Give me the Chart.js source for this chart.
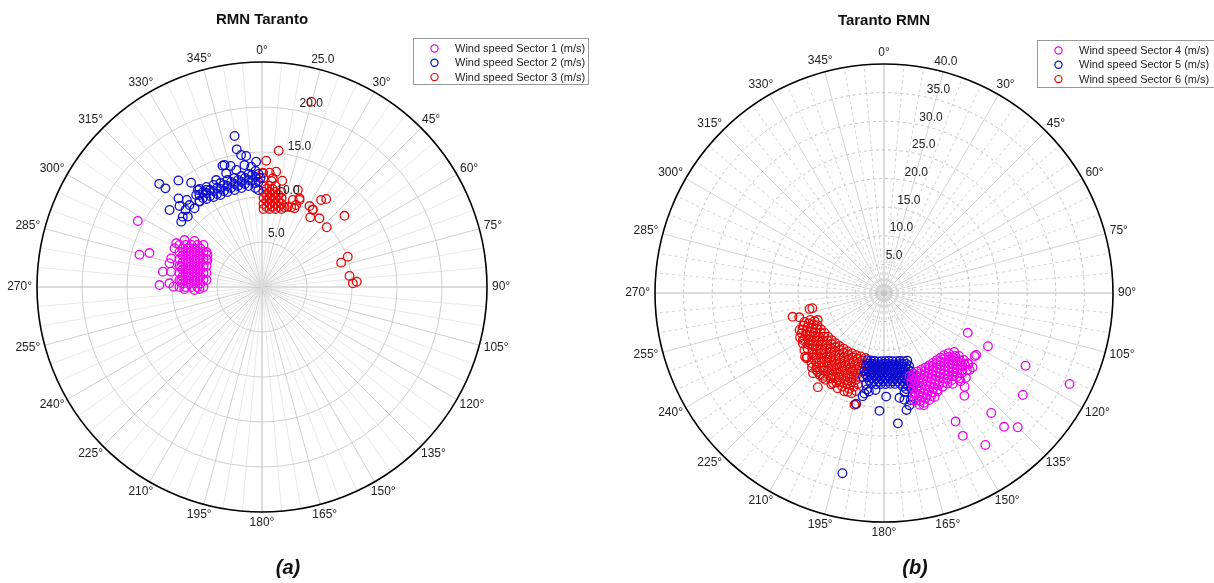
<!DOCTYPE html>
<html>
<head>
<meta charset="utf-8">
<script src="https://cdn.jsdelivr.net/npm/chart.js@4.4.1/dist/chart.umd.min.js"></script>
<style>
  body { margin: 0; background: #fff; width: 1214px; height: 583px; overflow: hidden; position: relative; font-family: "Liberation Sans", Arial, sans-serif; }
  .box { position: absolute; top: 0; width: 607px; height: 583px; }
  .cap { position: absolute; top: 556px; font: italic bold 20px "Liberation Sans", Arial, sans-serif; color: #111; transform: translateX(-50%); }
</style>
</head>
<body>
<div class="box" style="left:0"><canvas id="chartA"></canvas></div>
<div class="box" style="left:607px"><canvas id="chartB"></canvas></div>
<div class="cap" style="left:288px">(a)</div>
<div class="cap" style="left:915px">(b)</div>
<script>
// [direction (deg, clockwise from north), wind speed (m/s)]
const sector1 = [
  [297.0,10.29],[293.0,9.96],[288.7,9.68],[284.3,9.46],[279.6,9.30],[274.9,9.20],[270.0,9.17],
  [298.8,9.70],[294.6,9.35],[290.1,9.05],[285.3,8.81],[280.4,8.64],[275.2,8.54],[270.0,8.50],
  [300.8,9.12],[296.4,8.75],[291.7,8.43],[286.6,8.17],[281.2,7.99],[275.7,7.87],[270.0,7.83],
  [303.1,8.55],[298.5,8.15],[293.5,7.81],[288.0,7.54],[282.2,7.33],[276.2,7.21],[270.0,7.17],
  [305.7,8.00],[300.9,7.57],[295.6,7.21],[289.7,6.90],[283.5,6.69],[276.8,6.55],[270.0,6.50],
  [302.2,7.29],[296.8,6.91],[290.7,6.59],[284.2,6.36],[277.2,6.21],
  [295.8,9.81],[291.6,9.50],[287.1,9.24],[282.4,9.04],[277.5,8.91],[272.5,8.84],
  [297.6,9.22],[293.2,8.89],[288.4,8.61],[283.4,8.40],[278.1,8.25],[272.7,8.18],
  [299.7,8.63],[295.0,8.28],[290.0,7.98],[284.5,7.75],[278.8,7.59],[273.0,7.51],
  [302.0,8.06],[297.1,7.68],[291.7,7.36],[285.9,7.10],[279.7,6.93],[273.3,6.84],
  [271.1,11.39],[272.3,10.29],[279.6,10.23],[284.4,10.61],[278.8,11.15],[287.5,10.58],
  [293.9,10.63],[297.0,10.70],[275.0,9.01],[270.2,9.83],[284.1,9.26],[298.0,15.63],
  [284.8,14.08],[286.8,13.06],[301.2,10.07],[304.3,9.08],[300.4,7.02],[296.4,6.76],
  [267.5,7.51],[268.5,8.62],[268.2,6.95]
];
const sector2 = [
  [327.5,12.91],[325.8,12.36],[324.0,11.81],[331.0,12.71],[329.4,12.13],[327.8,11.56],
  [334.6,12.55],[333.2,11.95],[331.7,11.36],[338.2,12.44],[337.1,11.82],[335.7,11.21],
  [342.1,12.49],[341.1,11.86],[340.0,11.23],[345.8,12.49],[345.1,11.85],[344.2,11.20],
  [349.5,12.54],[349.0,11.89],[348.3,11.23],[353.2,12.64],[352.8,11.98],[352.4,11.32],
  [356.8,12.91],[356.6,12.24],[356.4,11.58],[356.2,11.02],
  [328.2,12.42],[326.5,11.87],[335.6,12.08],[334.2,11.48],[343.6,12.17],[342.6,11.53],
  [351.1,12.26],[350.6,11.60],[358.2,12.56],[358.1,11.67],[357.9,10.78],[359.2,12.11],
  [331.8,12.23],[330.3,11.64],[339.6,12.09],[338.4,11.47],[347.4,12.18],[346.6,11.53],
  [354.9,12.49],[354.6,11.83],
  [351.8,13.69],[354.9,13.42],[357.3,13.94],[347.6,13.31],[342.5,13.24],[336.8,12.93],
  [330.1,12.43],[326.5,12.92],[342.0,14.17],[345.5,13.90],
  [349.7,17.05],[349.6,15.55],[351.0,14.85],[353.1,14.66],[342.9,14.18],[315.1,16.18],
  [315.6,15.34],[321.9,15.05],[325.8,14.01],[316.7,13.53],[309.8,13.37],[319.2,12.78],
  [309.0,11.54],[313.5,11.36],[315.2,12.06],[319.4,11.52],[323.8,11.75],[324.4,12.57],
  [314.5,12.85],[318.5,12.16],[311.6,11.77]
];
const sector3 = [
  [0.9,11.22],[0.9,10.56],[1.0,9.89],[1.0,9.22],[1.1,8.67],
  [4.2,11.25],[4.5,10.59],[4.8,9.92],[5.2,9.26],[5.5,8.71],
  [7.6,11.32],[8.1,10.66],[8.6,10.00],[9.2,9.35],[9.8,8.80],
  [11.6,10.78],[12.4,10.12],[13.2,9.48],[14.1,8.93],
  [2.6,10.90],[2.8,10.23],[3.0,9.57],[3.2,8.90],
  [6.1,10.95],[6.5,10.29],[7.0,9.63],[7.5,8.97],
  [10.2,10.39],[10.9,9.73],[11.7,9.08],
  [0.5,12.70],[3.8,12.73],[0.8,12.11],[5.1,11.83],
  [7.0,15.26],[14.9,21.31],[1.9,14.04],[0.4,12.63],[7.0,12.91],[5.7,12.14],
  [22.9,10.70],[22.6,9.87],[20.1,9.43],[15.8,9.20],[30.4,10.43],[33.4,10.25],
  [34.2,11.69],[36.1,12.10],[33.2,10.31],[34.7,9.41],[39.9,9.95],[47.3,9.79],
  [49.2,12.11],[72.9,9.20],[70.5,10.11],[82.8,9.80],[87.7,10.10],[86.8,10.55],
  [10.8,12.02],[20.3,11.49],[23.3,10.53],[17.8,9.37],[19.5,10.26],[22.4,9.46]
];
const sector4 = [
  [130,16.0],[130,17.1],[130,18.2],[130,19.3],[130,20.2],
  [133,15.4],[133,16.5],[133,17.6],[133,18.7],[133,19.8],
  [136,15.1],[136,16.2],[136,17.3],[136,18.4],[136,19.5],[136,20.6],
  [139,15.0],[139,16.1],[139,17.2],[139,18.3],[139,19.4],[139,20.4],
  [142,14.9],[142,16.0],[142,17.1],[142,18.2],[142,19.3],
  [145,14.9],[145,16.0],[145,17.1],[145,18.2],[145,19.3],
  [148,14.9],[148,16.0],[148,17.1],[148,18.2],[148,19.3],
  [151,14.9],[151,16.0],[151,17.1],[151,18.2],[151,19.3],
  [154,14.9],[154,16.0],[154,17.1],[154,18.2],[154,19.3],[154,20.2],
  [157,14.9],[157,16.0],[157,17.1],[157,18.2],[157,19.3],[157,20.3],
  [160,15.0],[160,16.1],[160,17.2],[160,18.3],[160,19.4],[160,20.4],
  [163,15.2],[163,16.3],[163,17.4],[163,18.5],[163,19.6],
  [131.5,16.6],[131.5,17.7],[131.5,18.8],
  [134.5,15.9],[134.5,17.0],[134.5,18.1],[134.5,19.2],
  [137.5,15.6],[137.5,16.7],[137.5,17.8],[137.5,18.9],
  [140.5,15.5],[140.5,16.6],[140.5,17.7],[140.5,18.8],
  [143.5,15.4],[143.5,16.5],[143.5,17.6],[143.5,18.7],
  [146.5,15.4],[146.5,16.5],[146.5,17.6],[146.5,18.7],
  [149.5,15.4],[149.5,16.5],[149.5,17.6],[149.5,18.7],
  [152.5,15.4],[152.5,16.5],[152.5,17.6],[152.5,18.7],
  [155.5,15.4],[155.5,16.5],[155.5,17.6],[155.5,18.7],[155.5,19.8],
  [158.5,15.5],[158.5,16.6],[158.5,17.7],[158.5,18.8],[158.5,19.8],
  [161.5,15.6],[161.5,16.7],[161.5,17.8],[161.5,18.9],[161.5,19.9],
  [115.4,16.2],[117.1,20.4],[117.2,27.8],[116.1,36.1],[126.3,30.1],[138.2,28.1],
  [138.1,31.4],[135.1,33.1],[150.9,25.7],[151.1,28.5],[146.3,31.9],[124.8,19.3],
  [123.9,19.4],[139.3,21.6],[142.0,22.8],[142.9,19.9],[138.5,19.9],[132.0,20.1],
  [130.0,19.1],[151.4,19.6],[162.4,20.5],[160.5,20.8],[164.5,19.5]
];
const sector5 = [
  [161,12.5],[161,13.5],[161,14.5],[161,15.5],[161,16.5],[161,17.5],
  [164,12.4],[164,13.4],[164,14.4],[164,15.4],[164,16.4],[164,17.4],
  [167,12.2],[167,13.2],[167,14.2],[167,15.2],[167,16.2],[167,17.2],
  [170,12.1],[170,13.1],[170,14.1],[170,15.1],[170,16.1],
  [173,12.0],[173,13.0],[173,14.0],[173,15.0],[173,16.0],
  [176,11.9],[176,12.9],[176,13.9],[176,14.9],[176,15.9],
  [179,11.9],[179,12.9],[179,13.9],[179,14.9],[179,15.9],
  [182,11.9],[182,12.9],[182,13.9],[182,14.9],[182,15.9],
  [185,12.0],[185,13.0],[185,14.0],[185,15.0],[185,16.0],
  [188,12.0],[188,13.0],[188,14.0],[188,15.0],[188,16.0],
  [191,12.0],[191,13.0],[191,14.0],[191,15.0],[191,16.2],
  [194,12.1],[194,13.1],[194,14.1],[194,15.1],
  [162.5,13.0],[162.5,14.0],[162.5,15.0],[162.5,16.0],[162.5,17.0],
  [165.5,12.8],[165.5,13.8],[165.5,14.8],[165.5,15.8],[165.5,16.8],
  [168.5,12.7],[168.5,13.7],[168.5,14.7],[168.5,15.7],[168.5,16.7],
  [171.5,12.6],[171.5,13.6],[171.5,14.6],[171.5,15.6],
  [174.5,12.5],[174.5,13.5],[174.5,14.5],[174.5,15.5],
  [177.5,12.4],[177.5,13.4],[177.5,14.4],[177.5,15.4],
  [180.5,12.4],[180.5,13.4],[180.5,14.4],[180.5,15.4],
  [183.5,12.5],[183.5,13.5],[183.5,14.5],[183.5,15.5],
  [186.5,12.5],[186.5,13.5],[186.5,14.5],[186.5,15.5],
  [189.5,12.5],[189.5,13.5],[189.5,14.5],[189.5,15.5],
  [192.5,12.6],[192.5,13.6],[192.5,14.6],
  [169.2,19.0],[167.2,20.1],[169.1,20.8],[171.6,18.5],[164.5,18.7],[168.3,17.7],
  [194.2,20.0],[191.7,18.4],[188.7,17.4],[182.2,20.6],[173.9,22.9],[193.0,32.3],
  [178.8,18.1],[190.1,17.1],[191.0,17.9],[166.0,19.3],[162.5,18.3],[185.0,17.0]
];
const sector6 = [
  [196,11.8],[196,13.0],[196,14.2],[196,15.4],[196,16.6],[196,17.8],
  [198,12.4],[198,13.6],[198,14.8],[198,16.0],[198,17.2],[198,18.4],
  [200,11.8],[200,13.0],[200,14.2],[200,15.4],[200,16.6],[200,17.8],
  [202,12.4],[202,13.6],[202,14.8],[202,16.0],[202,17.2],[202,18.5],
  [204,11.9],[204,13.1],[204,14.3],[204,15.5],[204,16.7],[204,17.9],
  [206,12.5],[206,13.7],[206,14.9],[206,16.1],[206,17.3],[206,18.5],
  [208,11.9],[208,13.1],[208,14.3],[208,15.5],[208,16.7],[208,17.7],
  [210,12.5],[210,13.7],[210,14.9],[210,16.1],[210,17.2],[210,18.4],
  [212,12.0],[212,13.2],[212,14.4],[212,15.6],[212,16.8],[212,17.6],
  [214,12.6],[214,13.8],[214,15.0],[214,16.2],[214,17.3],[214,18.3],
  [216,12.0],[216,13.2],[216,14.4],[216,15.6],[216,16.8],[216,17.9],
  [218,12.6],[218,13.8],[218,15.0],[218,16.2],[218,17.2],[218,18.2],
  [220,12.1],[220,13.3],[220,14.5],[220,15.7],[220,16.9],[220,18.0],
  [222,12.7],[222,13.9],[222,15.1],[222,16.3],[222,17.5],
  [224,12.2],[224,13.4],[224,14.6],[224,15.8],[224,17.0],[224,18.1],
  [226,12.8],[226,14.0],[226,15.2],[226,16.4],[226,17.6],
  [228,12.3],[228,13.5],[228,14.7],[228,15.9],[228,16.9],
  [230,12.9],[230,14.1],[230,15.3],[230,16.4],[230,17.5],
  [232,12.4],[232,13.6],[232,14.8],[232,15.9],
  [234,13.0],[234,14.2],[234,15.4],[234,16.5],
  [236,12.5],[236,13.7],[236,14.9],[236,16.0],
  [238,13.1],[238,14.3],[238,15.5],[238,16.7],
  [240,12.7],[240,13.8],[240,15.0],[240,16.1],
  [242,13.3],[242,14.4],[242,15.5],[242,16.6],
  [244,12.9],[244,14.0],[244,15.1],[244,16.0],
  [246,13.5],[246,14.6],[246,15.6],
  [248,13.1],[248,14.2],[248,15.2],
  [250,13.7],[250,14.8],
  [255.4,16.5],[254.0,15.4],[257.9,13.3],[258.0,12.8],[247.8,12.5],[246.4,16.1],
  [239.9,16.4],[234.4,17.1],[230.0,17.7],[215.1,20.1],[221.4,17.9],[215.7,18.3],
  [209.6,18.1],[200.1,18.4],[194.8,20.2],[194.0,20.0],[231.1,17.7],[221.5,18.7]
];

const ringsA = [5, 10, 15, 20, 25];
const ringsB = [5, 10, 15, 20, 25, 30, 35, 40];
const labelsA = ["Wind speed Sector 1 (m/s)", "Wind speed Sector 2 (m/s)", "Wind speed Sector 3 (m/s)"];
const labelsB = ["Wind speed Sector 4 (m/s)", "Wind speed Sector 5 (m/s)", "Wind speed Sector 6 (m/s)"];

const MAGENTA = "#f000f0", BLUE = "#0c0cd0", RED = "#e80808";

function toXY(pts) {
  return pts.map(([d, s]) => {
    const t = d * Math.PI / 180;
    return { x: s * Math.sin(t), y: s * Math.cos(t) };
  });
}

function ds(label, pts, color) {
  return {
    label: label,
    data: toXY(pts),
    borderColor: color,
    backgroundColor: "rgba(0,0,0,0)",
    pointRadius: 4.3,
    pointBorderWidth: 1.3,
    pointHoverRadius: 4.3,
  };
}

// polar grid, ring labels, angle labels and the boxed legend
const polarGrid = {
  id: "polarGrid",
  beforeDatasetsDraw(chart, args, o) {
    const ctx = chart.ctx;
    const cx = chart.scales.x.getPixelForValue(0);
    const cy = chart.scales.y.getPixelForValue(0);
    const R = chart.scales.x.getPixelForValue(o.max) - cx;
    ctx.save();
    ctx.lineWidth = 0.8;
    for (let a = 0; a < 360; a += 5) {
      const t = a * Math.PI / 180;
      if (a % 90 === 0) { ctx.strokeStyle = o.axisColor; ctx.setLineDash([]); }
      else if (a % 15 === 0) { ctx.strokeStyle = o.majorColor; ctx.setLineDash([]); }
      else { ctx.strokeStyle = o.minorColor; ctx.setLineDash(o.minorDash); }
      ctx.beginPath();
      ctx.moveTo(cx, cy);
      ctx.lineTo(cx + R * Math.sin(t), cy - R * Math.cos(t));
      ctx.stroke();
    }
    ctx.strokeStyle = o.ringColor;
    ctx.setLineDash(o.ringDash);
    o.rings.slice(0, -1).forEach(v => {
      const r = chart.scales.x.getPixelForValue(v) - cx;
      ctx.beginPath();
      ctx.arc(cx, cy, r, 0, Math.PI * 2);
      ctx.stroke();
    });
    ctx.restore();
  },
  afterDraw(chart, args, o) {
    const ctx = chart.ctx;
    const cx = chart.scales.x.getPixelForValue(0);
    const cy = chart.scales.y.getPixelForValue(0);
    const R = chart.scales.x.getPixelForValue(o.max) - cx;
    ctx.save();
    ctx.setLineDash([]);
    ctx.strokeStyle = "#000";
    ctx.lineWidth = 1.6;
    ctx.beginPath();
    ctx.arc(cx, cy, R, 0, Math.PI * 2);
    ctx.stroke();

    ctx.fillStyle = "#222";
    ctx.font = '12px "Liberation Sans", Arial, sans-serif';
    ctx.textAlign = "center";
    ctx.textBaseline = "middle";
    const lt = 15 * Math.PI / 180;
    o.rings.forEach(v => {
      const r = chart.scales.x.getPixelForValue(v) - cx + 10;
      ctx.fillText(v.toFixed(1), cx + r * Math.sin(lt), cy - r * Math.cos(lt));
    });
    // the 15 deg label is left out: the outer ring value sits there
    for (let a = 0; a < 360; a += 15) {
      if (a === 15) continue;
      const t = a * Math.PI / 180;
      const txt = a + "\u00b0";
      const w = ctx.measureText(txt).width;
      const s = Math.sin(t), c = Math.cos(t);
      ctx.fillText(txt, cx + (R + 5) * s + s * w / 2, cy - (R + 5) * c - c * 6);
    }

    const L = o.legend;
    ctx.fillStyle = "#fff";
    ctx.fillRect(L.x, L.y, L.w, L.h);
    ctx.strokeStyle = "#9a9a9a";
    ctx.lineWidth = 1;
    ctx.strokeRect(L.x + 0.5, L.y + 0.5, L.w, L.h);
    ctx.font = '11px "Liberation Sans", Arial, sans-serif';
    ctx.textAlign = "left";
    chart.data.datasets.forEach((d, i) => {
      const y = L.y + 10.5 + i * 14.3;
      ctx.strokeStyle = d.borderColor;
      ctx.lineWidth = 1.2;
      ctx.beginPath();
      ctx.arc(L.x + 21.5, y, 3.6, 0, Math.PI * 2);
      ctx.stroke();
      ctx.fillStyle = "#222";
      ctx.fillText(d.label, L.x + 42, y + 0.5);
    });
    ctx.restore();
  }
};

function makeChart(id, title, datasets, rMax, rings, pad, titlePad, grid) {
  return new Chart(document.getElementById(id), {
    type: "scatter",
    data: { datasets: datasets },
    options: {
      responsive: true,
      maintainAspectRatio: false,
      animation: false,
      events: [],
      layout: { padding: pad },
      scales: {
        x: { type: "linear", min: -rMax, max: rMax, display: false },
        y: { type: "linear", min: -rMax, max: rMax, display: false },
      },
      plugins: {
        legend: { display: false },
        tooltip: { enabled: false },
        title: {
          display: true,
          text: title,
          color: "#111",
          font: { family: '"Liberation Sans", Arial, sans-serif', size: 15, weight: "bold" },
          padding: titlePad,
        },
        polarGrid: Object.assign({ max: rMax, rings: rings }, grid),
      },
    },
    plugins: [polarGrid],
  });
}

makeChart("chartA", "RMN Taranto", [
  ds(labelsA[0], sector1, MAGENTA),
  ds(labelsA[1], sector2, BLUE),
  ds(labelsA[2], sector3, RED),
], 25, ringsA, { left: 37, right: 120, top: 0, bottom: 71 }, { top: 11, bottom: 33 }, {
  axisColor: "#a8a8a8", majorColor: "#c4c4c4", minorColor: "#e2e2e2", minorDash: [],
  ringColor: "#c4c4c4", ringDash: [],
  legend: { x: 413, y: 38, w: 175, h: 46 },
});

makeChart("chartB", "Taranto RMN", [
  ds(labelsB[0], sector4, MAGENTA),
  ds(labelsB[1], sector5, BLUE),
  ds(labelsB[2], sector6, RED),
], 40, ringsB, { left: 48, right: 101, top: 0, bottom: 61 }, { top: 12, bottom: 34 }, {
  axisColor: "#a8a8a8", majorColor: "#c8c8c8", minorColor: "#c8c8c8", minorDash: [3, 3],
  ringColor: "#b4b4b4", ringDash: [3, 3],
  legend: { x: 430, y: 40, w: 180, h: 47 },
});
</script>
</body>
</html>
